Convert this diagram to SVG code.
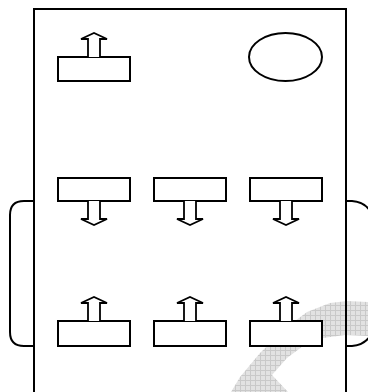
<svg xmlns="http://www.w3.org/2000/svg" width="368" height="392" viewBox="0 0 368 392">
  <style>
    .ln { fill: none; stroke: #000; stroke-width: 2; }
    .box { fill: #fff; stroke: #000; stroke-width: 2; }
    .arr { fill: #fff; stroke: #000; stroke-width: 1.8; stroke-linejoin: miter; }
  </style>
  <defs>
    <pattern id="grid" width="5" height="5" patternUnits="userSpaceOnUse">
      <rect width="5" height="5" fill="#e2e2e2"/>
      <path d="M0,0.5 H5 M0.5,0 V5" stroke="#c9c9c9" stroke-width="1"/>
    </pattern>
    <path id="up" d="M-6,0 V-18 H-13 L0,-24 L13,-18 H6 V0"/>
    <path id="down" d="M-6,0 V18 H-13 L0,24 L13,18 H6 V0"/>
  </defs>
  <rect width="368" height="392" fill="#fff"/>
  <g id="watermark">
    <path d="M231,392 L240,377 L260,353 L287,327 L307,312 L330,303 L347,301 L368,302 L368,336 L345,335 L323,338 L303,346 L287,358 L272,375 L288,392 Z" fill="url(#grid)"/>
  </g>
  <g id="frame">
    <path class="ln" d="M34,392 V9 H346 V392"/>
  </g>
  <g id="bracket-left">
    <path class="ln" d="M34,201 H24 Q10,201 10,215 V332 Q10,346 24,346 H34"/>
  </g>
  <g id="bracket-right">
    <path class="ln" d="M346,201 H352 Q366,202 372,214 V333 Q366,345 352,346 H346"/>
  </g>
  <g id="indicator">
    <ellipse class="box" cx="285.5" cy="57" rx="36.5" ry="24"/>
  </g>
  <g id="top-box">
    <rect class="box" x="58" y="57" width="72" height="24"/>
  </g>
  <g id="mid-box-1"><rect class="box" x="58" y="178" width="72" height="23"/></g>
  <g id="mid-box-2"><rect class="box" x="154" y="178" width="72" height="23"/></g>
  <g id="mid-box-3"><rect class="box" x="250" y="178" width="72" height="23"/></g>
  <g id="bot-box-1"><rect class="box" x="58" y="321" width="72" height="25"/></g>
  <g id="bot-box-2"><rect class="box" x="154" y="321" width="72" height="25"/></g>
  <g id="bot-box-3"><rect class="box" x="250" y="321" width="72" height="25"/></g>
  <g id="connectors">
    <use href="#up" class="arr" x="94" y="57"/>
    <use href="#down" class="arr" x="94" y="201"/>
    <use href="#down" class="arr" x="190" y="201"/>
    <use href="#down" class="arr" x="286" y="201"/>
    <use href="#up" class="arr" x="94" y="321"/>
    <use href="#up" class="arr" x="190" y="321"/>
    <use href="#up" class="arr" x="286" y="321"/>
  </g>
</svg>
